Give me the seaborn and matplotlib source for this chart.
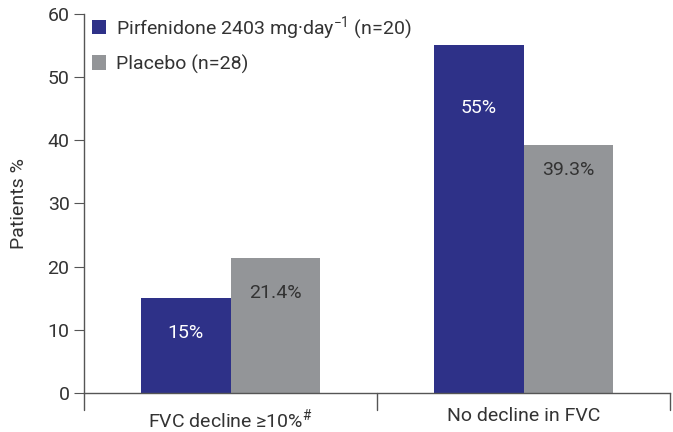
import seaborn as sns
import matplotlib.pyplot as plt
import pandas as pd

# datos
categorias = ["FVC decline \u226510%$^{\\#}$", "No decline in FVC"]
grupos = ["Pirfenidone 2403 mg\u00b7day$^{-1}$ (n=20)", "Placebo (n=28)"]
pirfenidona = [15, 55]
placebo = [21.4, 39.3]
etiquetas_pirf = ["15%", "55%"]
etiquetas_plac = ["21.4%", "39.3%"]

df = pd.DataFrame({
    "categoria": categorias * 2,
    "grupo": [grupos[0]] * 2 + [grupos[1]] * 2,
    "valor": pirfenidona + placebo,
})

sns.set_style("ticks")
plt.rcParams["font.family"] = ["Roboto", "DejaVu Sans"]
plt.rcParams["mathtext.fontset"] = "custom"
plt.rcParams["mathtext.rm"] = "Roboto"
plt.rcParams["mathtext.it"] = "Roboto"

fs = 14
colores = ["#2e3188", "#939598"]
fig, ax = plt.subplots(figsize=(6.73, 4.32), dpi=100)
sns.barplot(data=df, x="categoria", y="valor", hue="grupo", palette=colores,
            width=0.612, saturation=1, ax=ax, edgecolor="none")

# etiquetas dentro de las barras
offs = [5.5, 9.9]
for i, (v, t) in enumerate(zip(pirfenidona, etiquetas_pirf)):
    ax.text(i - 0.153, v - offs[i], t, ha="center", va="center", color="white", fontsize=fs)
offs = [5.6, 4.0]
for i, (v, t) in enumerate(zip(placebo, etiquetas_plac)):
    ax.text(i + 0.153, v - offs[i], t, ha="center", va="center", color="#333333", fontsize=fs)

ax.set_ylim(0, 60)
ax.set_xlim(-0.5, 1.5)
ax.set_yticks(range(0, 61, 10))
ax.set_ylabel("Patients %", fontsize=fs, color="#333333", labelpad=14)
ax.set_xlabel("")
ax.set_xticks([0, 1])
ax.set_xticklabels(categorias)
ax.tick_params(axis="x", length=0, labelsize=fs, labelcolor="#333333", pad=10)
ax.tick_params(axis="y", length=7, labelsize=fs, labelcolor="#333333", color="#555555")

# marcas separadoras en el eje x
for xs in [-0.5, 0.5, 1.5]:
    ax.plot([xs, xs], [0, -0.045], transform=ax.get_xaxis_transform(), color="#555555",
            lw=1, clip_on=False)

for s in ["left", "bottom"]:
    ax.spines[s].set_color("#555555")
    ax.spines[s].set_linewidth(1)
ax.spines["right"].set_visible(False)
ax.spines["top"].set_visible(False)
ax.spines["bottom"].set_bounds(-0.5, 1.5)

leg = ax.legend(loc="upper left", frameon=False, fontsize=fs, handlelength=0.75,
                handleheight=0.75, labelspacing=0.65, handletextpad=0.5,
                bbox_to_anchor=(-0.017, 1.045), borderaxespad=0.5)
for t in leg.get_texts():
    t.set_color("#333333")

plt.subplots_adjust(left=0.125, right=0.996, top=0.968, bottom=0.09)
plt.savefig("out.png")
plt.close()
